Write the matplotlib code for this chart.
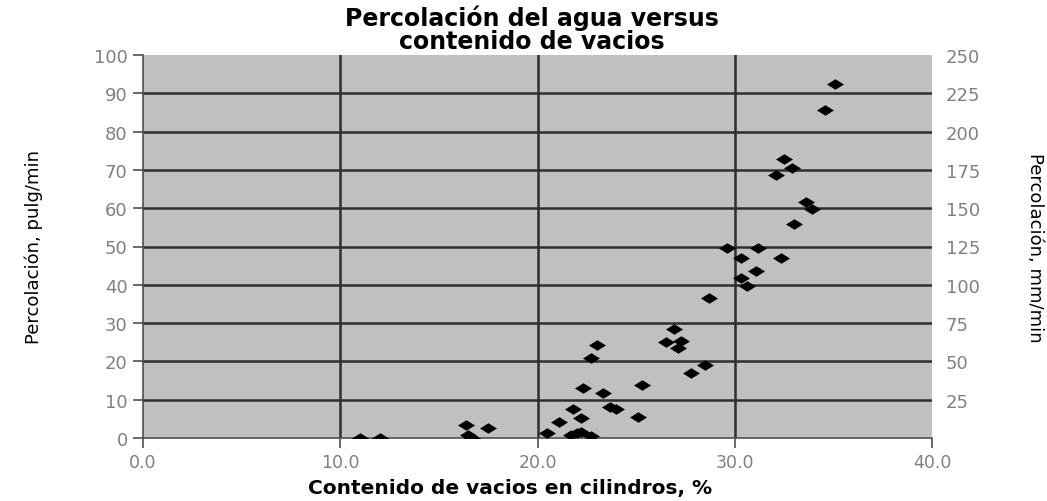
import matplotlib
matplotlib.use("Agg")
import matplotlib.pyplot as plt
import numpy as np

# vacios (%) vs percolacion (pulg/min)
vacios = [35.1, 34.6, 32.5, 32.9, 32.1, 33.6, 33.9, 33.0, 29.6, 31.2,
          30.3, 32.35, 31.1, 30.3, 30.6, 28.7, 26.9, 26.5, 27.3, 27.1,
          23.0, 22.7, 28.5, 27.8, 22.3, 23.3, 25.3, 21.8, 23.7, 24.0,
          22.2, 21.1, 25.1, 20.5, 22.0, 22.2, 22.7, 21.7, 16.4, 17.5,
          16.5, 16.7, 11.0, 12.0]
percolacion = [92.4, 85.6, 72.8, 70.4, 68.6, 61.5, 59.9, 56.0, 49.7, 49.7,
               46.9, 46.9, 43.5, 41.9, 39.8, 36.6, 28.5, 25.1, 25.4, 23.6,
               24.3, 20.9, 19.1, 17.0, 13.1, 11.8, 13.9, 7.6, 8.1, 7.6,
               5.2, 4.2, 5.5, 1.3, 1.3, 1.6, 0.5, 0.8, 3.4, 2.6,
               0.8, 0.1, 0.0, 0.0]

x_ticks = [0, 10, 20, 30, 40]
y_ticks = list(range(0, 101, 10))
y2_ticks = list(range(25, 251, 25))

GRAY = '#808080'
plt.rcParams['font.family'] = ['DejaVu Sans']

fig = plt.figure(figsize=(10.47, 5.02), dpi=100)
ax = fig.add_axes([143/1047, 63/502, 789/1047, 383/502])
ax.set_facecolor('#c0c0c0')

# wide diamond like the original
diamond = [(-1, 0), (0, 0.62), (1, 0), (0, -0.62), (-1, 0)]
ax.scatter(vacios, percolacion, marker=diamond, s=150, color='black',
           linewidths=0, zorder=3)

ax.set_xlim(0, 40)
ax.set_ylim(0, 100)
ax.set_xticks(x_ticks)
ax.set_xticklabels([f'{v:.1f}' for v in x_ticks])
ax.set_yticks(y_ticks)

for v in y_ticks[1:-1]:
    ax.axhline(v, color='#2e2e2e', lw=1.8, zorder=1)
for v in x_ticks[1:-1]:
    ax.axvline(v, color='#2e2e2e', lw=1.8, zorder=1)

ax.tick_params(axis='both', direction='out', length=7, width=1.2,
               color='#505050', labelcolor=GRAY, labelsize=13)
ax.tick_params(axis='x', pad=4, labelsize=12.5)
ax.tick_params(axis='y', pad=4)

for s in ['top', 'right']:
    ax.spines[s].set_visible(False)
for s in ['left', 'bottom']:
    ax.spines[s].set_color('#505050')
    ax.spines[s].set_linewidth(1.2)

ax2 = ax.twinx()
ax2.set_ylim(0, 250)
ax2.set_yticks(y2_ticks)
ax2.tick_params(axis='y', length=0, pad=10, labelcolor=GRAY, labelsize=13)
for s in ax2.spines.values():
    s.set_visible(False)

ax.set_ylabel('Percolación, pulg/min', fontsize=13, color='black')
ax.yaxis.set_label_coords(-0.138, 0.5)
ax.yaxis.label.set_va('center')
ax2.set_ylabel('Percolación, mm/min', fontsize=13, color='black',
               rotation=270)
ax2.yaxis.set_label_coords(1.13, 0.5)
ax2.yaxis.label.set_va('center')

ax.set_xlabel('Contenido de vacios en cilindros, %', fontsize=14.5,
              fontweight='bold', color='black')
ax.xaxis.set_label_coords(0.465, -0.128)
ax.xaxis.label.set_va('center')

fig.text(0.508, 0.99, 'Percolación del agua versus\ncontenido de vacios',
         ha='center', va='top', fontsize=17, fontweight='bold',
         color='black', linespacing=0.95)

fig.savefig('out.png', dpi=100)
